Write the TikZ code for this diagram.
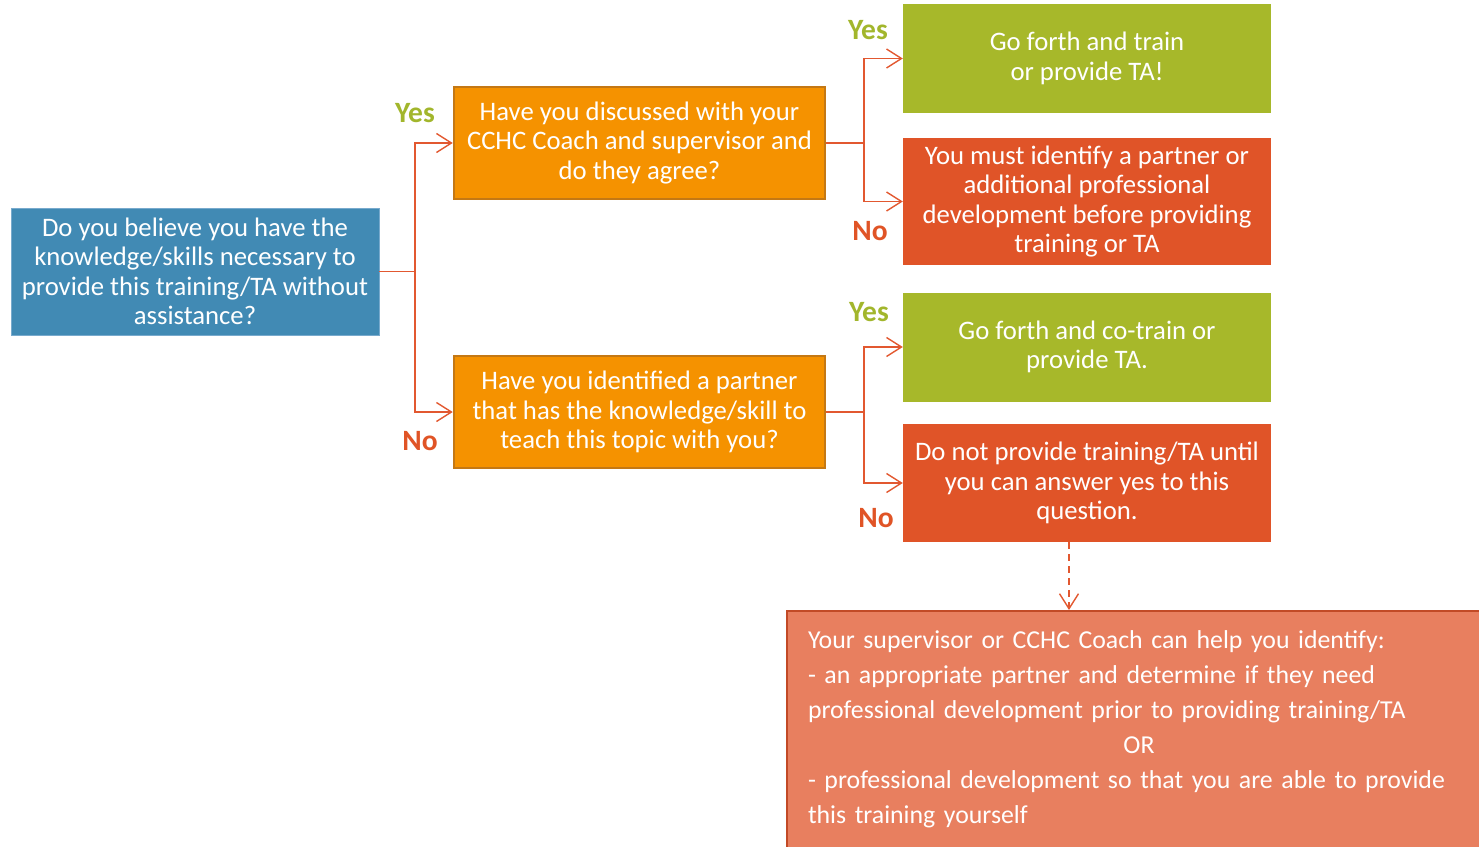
\documentclass[tikz,border=0pt]{standalone}
\usepackage{fontspec}
\setmainfont{Carlito}
\usetikzlibrary{arrows.meta}
\definecolor{cblue}{RGB}{65,138,180}
\definecolor{cblueb}{RGB}{120,170,205}
\definecolor{corange}{RGB}{245,146,0}
\definecolor{corangeb}{RGB}{196,120,20}
\definecolor{cgreen}{RGB}{167,184,42}
\definecolor{cred}{RGB}{224,84,40}
\definecolor{chelp}{RGB}{232,127,95}
\definecolor{chelpb}{RGB}{194,74,38}
\definecolor{cline}{RGB}{226,88,48}
\definecolor{cyes}{RGB}{162,182,44}
\definecolor{cno}{RGB}{224,84,38}
\tikzset{
  box/.style={rectangle, text=white, align=center, inner sep=0pt,
    font=\fontsize{26.7}{29.4}\selectfont},
  qblue/.style={box, fill=cblue, draw=cblueb, line width=0.8pt,
    minimum width=368, minimum height=127},
  qorange/.style={box, fill=corange, draw=corangeb, line width=2.5pt,
    minimum width=371, minimum height=112},
  agreen/.style={box, fill=cgreen, minimum width=368, minimum height=109},
  ared/.style={box, fill=cred, minimum width=368},
  arr/.style={draw=cline, line width=1.4pt,
    -{Straight Barb[length=15pt,width=19pt,line width=1.4pt]}},
  yeslab/.style={text=cyes, font=\fontsize{29.5}{32}\selectfont\bfseries},
  nolab/.style={text=cno, font=\fontsize{29.5}{32}\selectfont\bfseries},
}
\begin{document}
\begin{tikzpicture}[x=1pt,y=-1pt]
\useasboundingbox (0,0) rectangle (1479,846);
\node[qblue] (q1) at (195,271.5) {Do you believe you have the\\knowledge/skills necessary to\\provide this training/TA without\\assistance?};
\node[qorange] (q2) at (639.5,143) {Have you discussed with your\\CCHC Coach and supervisor and\\do they agree?};
\node[qorange] (q3) at (639.5,412) {Have you identified a partner\\that has the knowledge/skill to\\teach this topic with you?};
\node[agreen] (a1) at (1087,58.5) {Go forth and train\\or provide TA!};
\node[ared, minimum height=127] (a2) at (1087,201.5) {You must identify a partner or\\additional professional\\development before providing\\training or TA};
\node[agreen] (a3) at (1087,347) {Go forth and co-train or\\provide TA.};
\node[ared, minimum height=118] (a4) at (1087,483) {Do not provide training/TA until\\you can answer yes to this\\question.};
\node[rectangle, anchor=north west, fill=chelp, draw=chelpb, line width=2pt,
  text=white, align=left, text width=662, inner xsep=21, inner ysep=20,
  font=\fontsize{25.8}{35}\selectfont] (help) at (786,610)
  {Your supervisor or CCHC Coach can help you identify:\\
   - an appropriate partner and determine if they need\\
   professional development prior to providing training/TA\\
   \makebox[\linewidth]{OR}\\
   - professional development so that you are able to provide\\
   this training yourself\\[20pt]};
\coordinate (j1) at (415,271.5);
\coordinate (j2) at (864,143);
\coordinate (j3) at (864,412);
\coordinate (dx) at (1069,0);
\draw[draw=cline, line width=1.4pt] (q1.east) -- (j1);
\draw[arr] (j1) |- (q2.west);
\draw[arr] (j1) |- (q3.west);
\draw[draw=cline, line width=1.4pt] (q2.east) -- (j2);
\draw[arr] (j2) |- (a1.west);
\draw[arr] (j2) |- (a2.west);
\draw[draw=cline, line width=1.4pt] (q3.east) -- (j3);
\draw[arr] (j3) |- (a3.west);
\draw[arr] (j3) |- (a4.west);
\draw[arr, dash pattern=on 7pt off 5pt] (a4.south -| dx) -- (help.north -| dx);
\node[yeslab] (y1) at (415,113) {Yes};
\node[nolab] (n1) at (420,441) {No};
\node[yeslab] (y2) at (868,30) {Yes};
\node[nolab] (n2) at (870,231) {No};
\node[yeslab] (y3) at (869,312) {Yes};
\node[nolab] (n3) at (876,518) {No};
\end{tikzpicture}
\end{document}
